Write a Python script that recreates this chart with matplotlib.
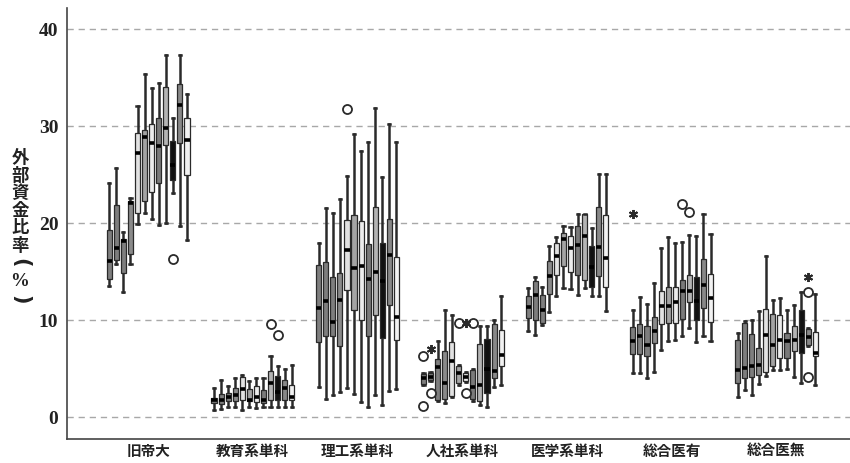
import matplotlib
matplotlib.use("Agg")
import matplotlib.pyplot as plt
import numpy as np

categories = ["旧帝大", "教育系単科", "理工系単科", "人社系単科", "医学系単科", "総合医有", "総合医無"]

q1 = [
    [14.2, 16.2, 14.85, 16.8, 21.1, 22.25, 23.25, 24.15, 28.1, 24.45, 28.3, 25.0],
    [1.4, 1.3, 1.6, 1.6, 1.8, 1.6, 1.55, 1.4, 1.8, 1.75, 1.75, 1.75],
    [7.7, 8.35, 8.35, 7.35, 13.1, 11.05, 10.0, 8.35, 10.55, 8.1, 11.6, 7.95],
    [3.4, 3.8, 1.75, 1.9, 2.2, 3.55, 3.75, 1.9, 1.65, 2.45, 4.0, 5.25],
    [10.2, 10.0, 9.75, 12.7, 14.7, 15.6, 15.0, 14.7, 14.15, 13.45, 14.6, 13.45],
    [6.5, 6.5, 6.25, 7.6, 9.6, 9.7, 9.7, 10.1, 11.85, 10.0, 11.25, 9.85],
    [3.5, 4.0, 4.15, 4.35, 4.6, 5.25, 6.05, 6.05, 6.8, 6.6, 7.45, 6.25],
]
med = [
    [16.1, 17.4, 18.2, 22.1, 27.25, 28.9, 28.25, 28.0, 29.8, 26.0, 32.2, 28.6],
    [1.8, 1.8, 2.1, 2.3, 2.85, 1.8, 2.1, 1.8, 3.55, 2.6, 2.95, 2.1],
    [11.2, 12.0, 9.8, 12.05, 17.25, 15.35, 15.6, 14.2, 15.0, 14.0, 16.7, 10.3],
    [4.0, 4.15, 5.15, 3.55, 5.8, 4.5, 4.15, 3.05, 3.3, 5.0, 4.7, 6.4],
    [11.4, 12.6, 11.05, 14.6, 16.65, 18.35, 17.45, 17.7, 18.7, 15.5, 17.5, 16.4],
    [7.85, 8.4, 7.45, 8.9, 11.45, 11.45, 11.85, 13.0, 13.0, 12.0, 13.6, 12.25],
    [4.85, 5.1, 5.25, 5.4, 8.5, 7.45, 7.95, 7.8, 7.95, 8.5, 8.3, 6.6],
]
q3 = [
    [19.26, 21.9, 18.4, 22.25, 29.3, 29.6, 30.25, 30.8, 34.1, 28.5, 34.4, 30.8],
    [2.0, 2.4, 2.45, 2.95, 4.15, 2.85, 3.2, 2.8, 4.7, 4.25, 3.8, 3.3],
    [15.65, 16.0, 14.4, 14.9, 20.35, 20.8, 20.25, 17.8, 21.7, 17.95, 20.45, 16.5],
    [4.4, 4.5, 6.0, 6.8, 7.7, 5.25, 4.5, 4.9, 7.5, 8.0, 9.6, 9.0],
    [12.45, 14.0, 12.6, 16.1, 18.0, 19.0, 18.65, 19.75, 20.95, 17.6, 21.65, 20.8],
    [9.25, 9.6, 9.35, 10.3, 13.0, 13.45, 13.45, 14.15, 14.7, 14.45, 16.35, 14.75],
    [7.95, 9.75, 8.6, 7.1, 11.1, 10.65, 10.55, 8.7, 9.4, 11.05, 9.05, 8.8],
]
whis_lo = [
    [13.5, 15.8, 12.85, 15.8, 19.95, 21.1, 20.4, 19.8, 20.0, 23.1, 19.7, 18.3],
    [0.7, 0.85, 1.0, 1.05, 0.7, 1.0, 0.9, 1.0, 1.05, 1.05, 1.0, 1.0],
    [3.05, 1.9, 2.25, 2.6, 2.95, 2.4, 1.55, 1.0, 2.3, 1.2, 2.7, 2.85],
    [3.3, 3.7, 1.6, 1.4, 2.05, 3.3, 3.6, 1.65, 1.25, 1.05, 3.05, 3.3],
    [8.9, 8.45, 9.5, 10.8, 12.45, 13.3, 13.2, 12.55, 13.35, 12.45, 12.45, 10.95],
    [4.5, 4.5, 4.05, 4.6, 6.9, 7.8, 7.9, 8.35, 9.15, 7.7, 8.4, 7.8],
    [2.1, 2.8, 2.25, 3.4, 4.25, 4.8, 4.8, 5.0, 4.15, 3.55, 7.3, 3.3],
]
whis_hi = [
    [24.1, 25.7, 19.1, 22.6, 32.1, 35.4, 33.9, 34.45, 37.3, 30.9, 37.3, 33.3],
    [2.95, 3.8, 3.2, 4.0, 4.35, 3.75, 4.0, 4.0, 6.25, 5.25, 5.0, 5.4],
    [18.0, 21.6, 21.0, 22.5, 24.85, 29.25, 27.4, 28.4, 31.9, 24.8, 30.25, 28.4],
    [4.5, 4.6, 7.8, 11.0, 10.55, 5.35, 4.6, 5.0, 9.35, 9.4, 10.0, 12.5],
    [13.3, 14.4, 13.45, 17.6, 18.6, 19.7, 19.6, 20.95, 20.95, 19.5, 25.1, 25.1],
    [11.05, 12.35, 11.65, 13.8, 17.45, 18.55, 17.95, 18.1, 18.75, 18.7, 20.9, 18.9],
    [8.65, 9.95, 10.0, 10.9, 16.6, 12.1, 12.25, 11.0, 11.6, 12.85, 9.2, 12.7],
]
# outliers: (group, box, value)
circ_group = [0, 1, 1, 2, 3, 3, 3, 3, 3, 3, 5, 5, 6, 6]
circ_box = [9, 8, 9, 4, 0, 0, 1, 5, 7, 6, 7, 8, 10, 10]
circ_val = [16.3, 9.6, 8.5, 31.8, 6.25, 1.15, 2.45, 9.75, 9.75, 2.45, 22.0, 21.2, 12.9, 4.1]
star_group = [3, 3, 5, 6]
star_box = [1, 6, 0, 10]
star_val = [7.0, 9.75, 20.9, 14.4]

box_colors = ['#7e7e7e', '#7e7e7e', '#7e7e7e', '#8a8a8a', '#e2e2e2', '#a4a4a4',
              '#ececec', '#7a7a7a', '#b4b4b4', '#111111', '#888888', '#f2f2f2']

ylab_chars = ["外", "部", "資", "金", "比", "率", "(", "%", ")"]

GSP = 14.83
CJK = ['Noto Sans CJK JP', 'DejaVu Sans']

fig = plt.figure(figsize=(8.5, 4.63), dpi=100)
ax = fig.add_axes([0.0785, 0.0512, 0.9215, 0.9315])

stats, positions, colors = [], [], []
for g in range(len(categories)):
    for j in range(12):
        stats.append(dict(med=med[g][j], q1=q1[g][j], q3=q3[g][j],
                          whislo=whis_lo[g][j], whishi=whis_hi[g][j], fliers=[]))
        positions.append(g * GSP + j)
        colors.append(box_colors[j])

res = ax.bxp(stats, positions=positions, widths=0.72, patch_artist=True,
             showfliers=False, capwidths=0.3,
             boxprops=dict(edgecolor='#2a2a2a', linewidth=0.9),
             whiskerprops=dict(color='#2a2a2a', linewidth=1.8),
             capprops=dict(color='#2a2a2a', linewidth=1.8),
             medianprops=dict(color='#000000', linewidth=2.6, solid_capstyle='butt'))
for patch, c in zip(res['boxes'], colors):
    patch.set_facecolor(c)
for w in res['whiskers']:
    w.set_zorder(1)
for b in res['boxes']:
    b.set_zorder(2)
for m in res['medians']:
    m.set_zorder(3)

cx = [g * GSP + circ_box[i] for i, g in enumerate(circ_group)]
ax.plot(cx, circ_val, linestyle='none', marker='o', markersize=6.5,
        markerfacecolor='white', markeredgecolor='#2a2a2a', markeredgewidth=1.3, zorder=4)
sx = [g * GSP + star_box[i] for i, g in enumerate(star_group)]
ax.plot(sx, star_val, linestyle='none', marker=(6, 2, 0), markersize=6.5,
        markeredgewidth=1.4, color='#2a2a2a', zorder=4)

ax.set_xlim(-6.03, 104.9)
ax.set_ylim(-2.3, 42.2)
ax.set_yticks([0, 10, 20, 30, 40])
ax.yaxis.grid(True, linestyle=(0, (4.5, 3.5)), color='#a8a8a8', linewidth=1.0)
ax.set_axisbelow(True)
for s in ['top', 'right']:
    ax.spines[s].set_visible(False)
for s in ['left', 'bottom']:
    ax.spines[s].set_color('#444444')
    ax.spines[s].set_linewidth(1.2)
ax.tick_params(axis='both', length=0)
ax.tick_params(axis='y', pad=6)
ax.tick_params(axis='x', pad=2.5)
for lab in ax.get_yticklabels():
    lab.set_fontfamily('Liberation Serif')
    lab.set_fontweight('bold')
    lab.set_fontsize(14)
    lab.set_color('#222222')

ax.set_xticks([g * GSP + 5.5 for g in range(len(categories))])
ax.set_xticklabels(categories, fontfamily=CJK, fontweight='bold', fontsize=10.5,
                   color='#222222')

# vertical y-axis label, one character per line
ypos = [158, 175.6, 193.2, 210.8, 228.4, 246, 263, 282, 300]
for ch, ypx in zip(ylab_chars, ypos):
    kw = dict(ha='center', va='center', color='#222222', fontweight='bold')
    if ch == "%":
        fig.text(20 / 850, 1 - ypx / 463, ch, fontfamily='Liberation Serif',
                 fontsize=13.5, **kw)
    elif ch in "()":
        fig.text(20 / 850, 1 - ypx / 463, ch, fontfamily='DejaVu Sans',
                 fontsize=15, rotation=-90, **kw)
    else:
        fig.text(20 / 850, 1 - ypx / 463, ch, fontfamily=CJK, fontsize=12.5, **kw)

fig.savefig("out.png", dpi=100)
